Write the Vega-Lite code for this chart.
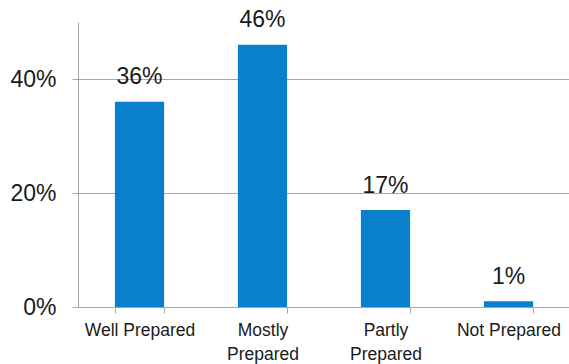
{
  "$schema": "https://vega.github.io/schema/vega-lite/v6.json",
  "autosize": "none",
  "width": 492,
  "height": 285,
  "padding": {"left": 78, "top": 22, "right": 0, "bottom": 57},
  "background": "white",
  "config": {
    "view": {"stroke": null},
    "font": "Liberation Sans"
  },
  "data": {
    "values": [
      {"category": "Well Prepared", "value": 0.36, "label": "36%"},
      {"category": "Mostly Prepared", "value": 0.46, "label": "46%"},
      {"category": "Partly Prepared", "value": 0.17, "label": "17%"},
      {"category": "Not Prepared", "value": 0.01, "label": "1%"}
    ]
  },
  "encoding": {
    "x": {
      "field": "category",
      "type": "nominal",
      "sort": null,
      "scale": {"paddingInner": 0.6, "paddingOuter": 0.3},
      "axis": {
        "title": null,
        "labelAngle": 0,
        "labelFontSize": 17.5,
        "labelColor": "#1a1a1a",
        "labelPadding": 8,
        "labelLineHeight": 24,
        "labelExpr": "datum.label == 'Mostly Prepared' ? ['Mostly', 'Prepared'] : datum.label == 'Partly Prepared' ? ['Partly', 'Prepared'] : datum.label",
        "tickBand": "extent",
        "tickSize": 6,
        "tickColor": "#a6a6a6",
        "domainColor": "#a6a6a6",
        "grid": false
      }
    },
    "y": {
      "field": "value",
      "type": "quantitative",
      "scale": {"domain": [0, 0.5], "nice": false},
      "axis": {
        "title": null,
        "values": [0, 0.2, 0.4],
        "format": ".0%",
        "labelFontSize": 23,
        "labelColor": "#1a1a1a",
        "labelPadding": 16,
        "tickSize": 6,
        "tickColor": "#a6a6a6",
        "domainColor": "#a6a6a6",
        "grid": true,
        "gridColor": "#a6a6a6"
      }
    }
  },
  "layer": [
    {"mark": {"type": "bar", "color": "#0a7fcc"}},
    {
      "mark": {"type": "text", "baseline": "alphabetic", "dy": -17.5, "fontSize": 23, "color": "#1a1a1a"},
      "encoding": {"text": {"field": "label"}}
    }
  ]
}
